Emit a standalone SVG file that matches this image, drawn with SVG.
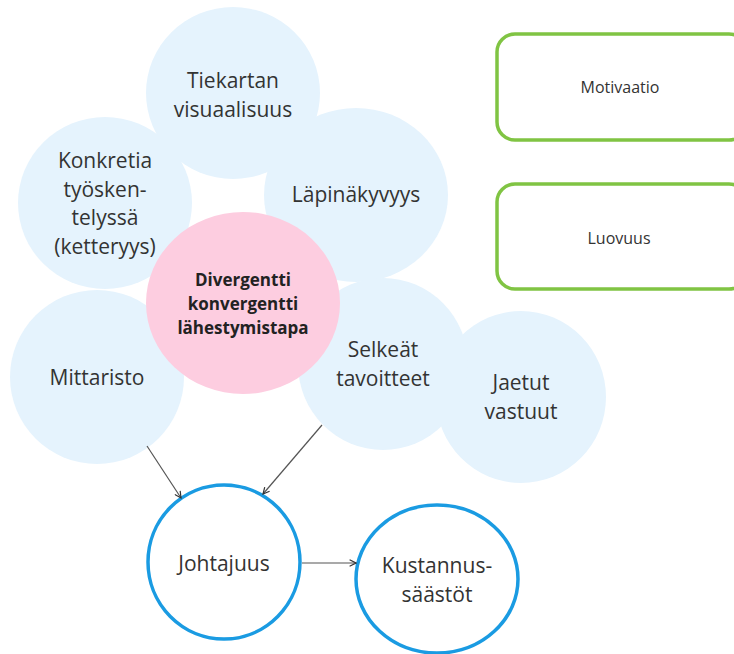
<svg xmlns="http://www.w3.org/2000/svg" width="734" height="654" viewBox="0 0 734 654">
<style>
.c{fill:#e5f3fd;stroke:none}
.t{font-family:"Open Sans","Noto Sans",sans-serif;font-size:21px;fill:#333;text-anchor:middle}
.b{font-family:"Open Sans","Noto Sans",sans-serif;font-size:17px;font-weight:bold;fill:#222;text-anchor:middle}
.s{font-family:"Open Sans","Noto Sans",sans-serif;font-size:16px;fill:#333;text-anchor:middle}
.o{fill:#fff;stroke:#1a9be2;stroke-width:3.5}
.g{fill:#fff;stroke:#80c443;stroke-width:3.5}
.e{stroke:#555;stroke-width:1.2;fill:none;marker-end:url(#a)}
</style>
<defs>
<marker id="a" viewBox="0 0 10 10" refX="9" refY="5" markerWidth="8" markerHeight="8" markerUnits="userSpaceOnUse" orient="auto">
<path d="M1,1 L9,5 L1,9" fill="none" stroke="#333" stroke-width="1.5"/>
</marker>
</defs>
<rect width="734" height="654" fill="#fff"/>
<g id="tiekartan"><ellipse class="c" cx="233" cy="93" rx="87" ry="86"/><text class="t" x="233" y="88">Tiekartan</text><text class="t" x="233" y="117">visuaalisuus</text></g>
<g id="konkretia"><ellipse class="c" cx="105" cy="203" rx="87" ry="86"/><text class="t" x="105" y="168">Konkretia</text><text class="t" x="105" y="197">työsken-</text><text class="t" x="105" y="225">telyssä</text><text class="t" x="105" y="254">(ketteryys)</text></g>
<g id="lapinakyvyys"><ellipse class="c" cx="356" cy="195" rx="92" ry="87"/><text class="t" x="356" y="202">Läpinäkyvyys</text></g>
<g id="mittaristo"><ellipse class="c" cx="97" cy="377" rx="87" ry="87"/><text class="t" x="97" y="385">Mittaristo</text></g>
<g id="jaetut"><ellipse class="c" cx="521" cy="397" rx="85" ry="86"/><text class="t" x="521" y="390">Jaetut</text><text class="t" x="521" y="419">vastuut</text></g>
<g id="selkeat"><ellipse class="c" cx="383" cy="364" rx="85" ry="86"/><text class="t" x="383" y="357">Selkeät</text><text class="t" x="383" y="386">tavoitteet</text></g>
<g id="divergentti"><ellipse cx="243" cy="303" rx="97" ry="91" fill="#fdcde0"/><text class="b" x="243" y="286">Divergentti</text><text class="b" x="243" y="310">konvergentti</text><text class="b" x="243" y="334">lähestymistapa</text></g>
<g id="motivaatio"><rect class="g" x="497" y="34" width="250" height="106" rx="18"/><text class="s" x="620" y="93">Motivaatio</text></g>
<g id="luovuus"><rect class="g" x="497" y="184" width="250" height="105" rx="18"/><text class="s" x="619" y="244">Luovuus</text></g>
<g id="johtajuus"><ellipse class="o" cx="224" cy="562" rx="76" ry="77"/><text class="t" x="224" y="571">Johtajuus</text></g>
<g id="kustannus"><ellipse class="o" cx="437" cy="579" rx="81" ry="74"/><text class="t" x="437" y="573">Kustannus-</text><text class="t" x="437" y="602">säästöt</text></g>
<g id="connectors">
<line class="e" x1="147" y1="446" x2="181" y2="498"/>
<line class="e" x1="322" y1="425" x2="263" y2="494"/>
<line class="e" x1="302" y1="563" x2="356" y2="563"/>
</g>
</svg>
